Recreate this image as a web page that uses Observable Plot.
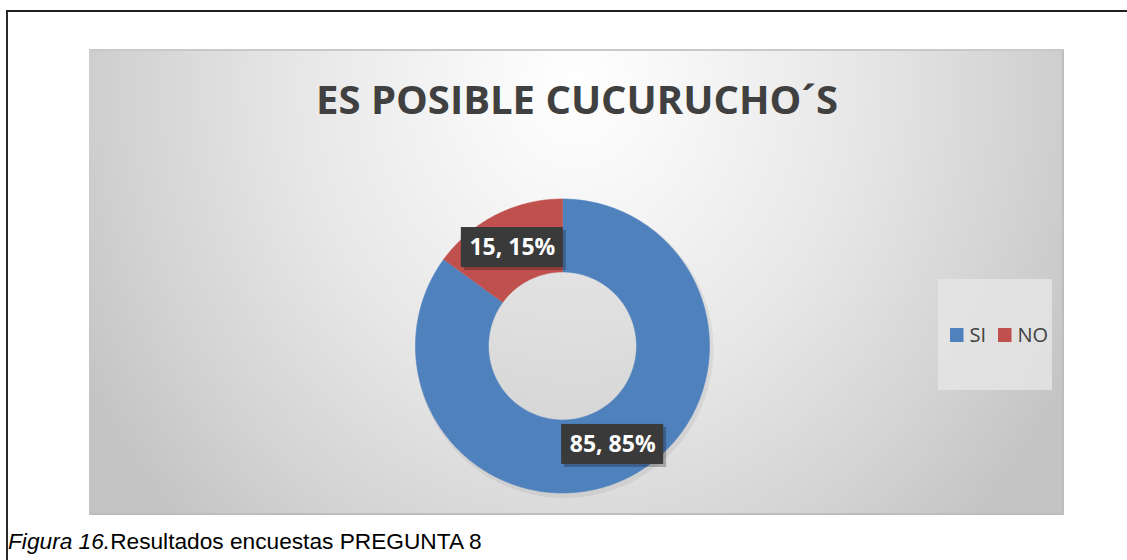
<!DOCTYPE html>
<html>
<head>
<meta charset="utf-8">
<script src="https://cdn.jsdelivr.net/npm/d3@7"></script>
<script src="https://cdn.jsdelivr.net/npm/@observablehq/plot@0.6"></script>
<style>
  html, body { margin: 0; padding: 0; background: #ffffff; }
  #page { position: relative; width: 1127px; height: 560px; overflow: hidden; background: #fff; }
  #frame { position: absolute; left: 6px; top: 10px; right: -4px; bottom: -4px;
           border-top: 2px solid #1e1e1e; border-left: 2px solid #2a2a2a; }
  #chart { position: absolute; left: 89px; top: 49px; width: 975px; height: 466px;
           background: radial-gradient(ellipse 560px 620px at 50% 8%, #ffffff 0%, #f6f6f6 20%, #e7e7e7 50%, #d3d3d3 80%, #c4c4c4 100%);
           box-shadow: inset 0 2px 0 #c9c9c9, inset 0 -2px 0 #bdbdbd, inset -2px 0 0 #bdbdbd; }
  #chart svg { background: transparent !important; display: block; }
  #caption { position: absolute; left: 8px; top: 528px; font-family: "Liberation Sans", Arial, sans-serif;
             font-size: 22.7px; color: #000; white-space: nowrap; }
</style>
</head>
<body>
<div id="page">
  <div id="frame"></div>
  <div id="chart"></div>
  <div id="caption"><i>Figura 16.</i>Resultados encuestas PREGUNTA 8</div>
</div>
<script>
// ---- data ----
const title = "ES POSIBLE CUCURUCHO´S";
const categories = ["SI", "NO"];
const values = [85, 15];
const colors = ["#4f81bd", "#c0504d"];

// ---- layout ----
const W = 975, H = 466;
const cx = 473, cy = 296.5, R = 147, r = 74;
const total = d3.sum(values);

// slices: clockwise from 12 o'clock
const slices = [];
let acc = 0;
categories.forEach((c, i) => {
  const a0 = acc / total * 2 * Math.PI;
  acc += values[i];
  const a1 = acc / total * 2 * Math.PI;
  slices.push({cat: c, value: values[i], a0, a1,
               label: `${values[i]}, ${Math.round(values[i] / total * 100)}%`});
});

const pt = (a, rad) => [cx + rad * Math.sin(a), cy - rad * Math.cos(a)];

const ring = [];
slices.forEach(s => {
  const n = Math.max(4, Math.ceil((s.a1 - s.a0) / (Math.PI / 360)));
  for (let k = 0; k <= n; k++) {
    const a = s.a0 + (s.a1 - s.a0) * k / n;
    const [x, y] = pt(a, R);
    ring.push({cat: s.cat, x, y});
  }
  for (let k = n; k >= 0; k--) {
    const a = s.a0 + (s.a1 - s.a0) * k / n;
    const [x, y] = pt(a, r);
    ring.push({cat: s.cat, x, y});
  }
});

// soft shadow ring
const shadow = [];
for (let k = 0; k <= 360; k++) {
  const a = k / 360 * 2 * Math.PI;
  shadow.push({x: cx + 2 + (R + 2) * Math.sin(a), y: cy + 3 - (R + 2) * Math.cos(a)});
}

// labels at mid-angle, mid-ring
const labels = slices.map(s => {
  const am = (s.a0 + s.a1) / 2;
  const [x, y] = pt(am, (R + r) / 2);
  return {...s, x, y};
});
const bw = 102, bh = 40;

// legend
const legBox = {x1: 849, x2: 963, y1: 230, y2: 341};
const legItems = categories.map((c, i) => ({cat: c, x: 861 + i * 48, y: 286}));

const plot = Plot.plot({
  width: W, height: H,
  margin: 0,
  x: {domain: [0, W], range: [0, W], axis: null},
  y: {domain: [0, H], range: [0, H], axis: null},
  color: {domain: categories, range: colors},
  style: {background: "transparent", overflow: "visible"},
  marks: [
    Plot.text([title], {x: W / 2, y: 64, text: d => d, textAnchor: "middle", lineAnchor: "bottom",
      fontFamily: "'Open Sans', sans-serif", fontWeight: 700, fontSize: 40, fill: "#404040"}),
    Plot.line(shadow, {x: "x", y: "y", fill: "#000", fillOpacity: 0.06, stroke: "none"}),
    Plot.line(ring, {x: "x", y: "y", z: "cat", fill: "cat", stroke: "cat", strokeWidth: 0.6}),
    Plot.rect(labels, {x1: d => d.x - bw / 2 + 3, x2: d => d.x + bw / 2 + 3, y1: d => d.y - bh / 2 + 3, y2: d => d.y + bh / 2 + 3,
      fill: "#000", fillOpacity: 0.25}),
    Plot.rect(labels, {x1: d => d.x - bw / 2, x2: d => d.x + bw / 2, y1: d => d.y - bh / 2, y2: d => d.y + bh / 2,
      fill: "#3a3a3a"}),
    Plot.text(labels, {x: "x", y: "y", text: "label", fill: "#ffffff", fontSize: 23, fontWeight: 700,
      fontFamily: "'Open Sans', sans-serif", textAnchor: "middle"}),
    Plot.rect([legBox], {x1: "x1", x2: "x2", y1: "y1", y2: "y2", fill: "#e6e6e6", fillOpacity: 0.8}),
    Plot.rect(legItems, {x1: d => d.x, x2: d => d.x + 13.5, y1: d => d.y - 7, y2: d => d.y + 7, fill: "cat"}),
    Plot.text(legItems, {x: d => d.x + 19, y: "y", text: "cat", textAnchor: "start", fontSize: 20,
      fontFamily: "'Open Sans', sans-serif", fill: "#404040"})
  ]
});
document.getElementById("chart").appendChild(plot);
</script>
</body>
</html>
